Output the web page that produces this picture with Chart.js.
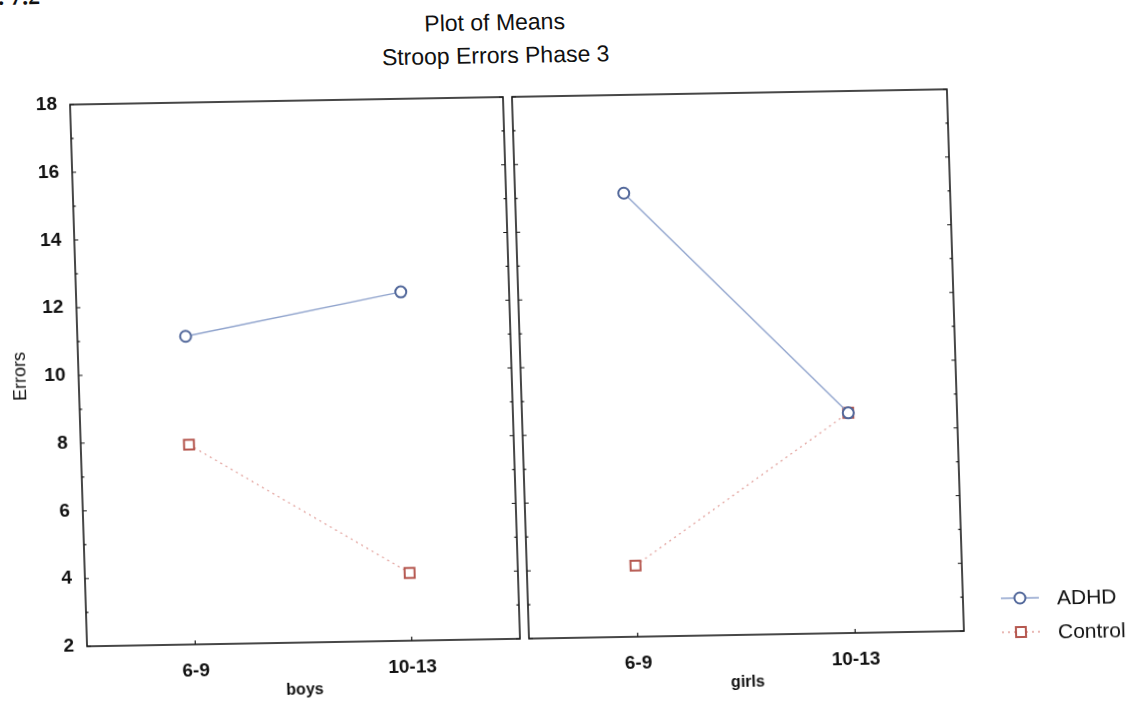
<!DOCTYPE html>
<html>
<head>
<meta charset="utf-8">
<script src="https://cdn.jsdelivr.net/npm/chart.js@4.4.0/dist/chart.umd.min.js"></script>
<style>
html, body { margin: 0; padding: 0; background: #fff; overflow: hidden; }
#page {
  position: relative; width: 1131px; height: 704px;
  transform: rotate(-1deg) skewX(0.8deg); transform-origin: 565px 352px;
  font-family: "Liberation Sans", Arial, sans-serif; color: #111;
}
.title { position: absolute; left: 0; width: 1010px; text-align: center; font-size: 23px; line-height: 23px; }
#fig { position: absolute; left: -24px; top: -26px; font: bold 24px "Liberation Serif", serif; }
#boysWrap { position: absolute; left: 0; top: 0; }
#girlsWrap { position: absolute; left: 511px; top: 0; }
</style>
</head>
<body>
<div id="page">
  <div id="fig">Fig. 7.2</div>
  <div class="title" style="top:10px">Plot of Means</div>
  <div class="title" style="top:43px">Stroop Errors Phase 3</div>
  <div id="boysWrap"><canvas id="boys" width="520" height="704"></canvas></div>
  <div id="girlsWrap"><canvas id="girls" width="620" height="704"></canvas></div>
</div>
<script>
const categories = ['6-9', '10-13'];
const seriesNames = ['ADHD', 'Control'];
const boysADHD = [11.1, 12.3];
const boysControl = [7.9, 4.0];
const girlsADHD = [15.1, 8.5];
const girlsControl = [4.1, 8.5];
const yTicks = [2, 4, 6, 8, 10, 12, 14, 16, 18];

const ink = '#111';
const family = '"Liberation Sans", Arial, sans-serif';

// box round the plot area plus small inner ticks, like the old stats package
const frame = {
  id: 'frame',
  beforeDatasetsDraw(chart) {
    const { ctx, chartArea: a, scales } = chart;
    ctx.save();
    ctx.strokeStyle = '#1a1a1a';
    ctx.lineWidth = 1.6;
    ctx.strokeRect(a.left, a.top, a.right - a.left, a.bottom - a.top);
    ctx.lineWidth = 1.2;
    const y = scales.y;
    for (let v = y.min; v <= y.max; v++) {
      const py = y.getPixelForValue(v);
      const len = v % 2 === 0 ? 4 : 2.5;
      ctx.beginPath();
      ctx.moveTo(a.left, py); ctx.lineTo(a.left + len, py);
      ctx.moveTo(a.right, py); ctx.lineTo(a.right - len, py);
      ctx.stroke();
    }
    const x = scales.x;
    categories.forEach((c, i) => {
      const px = x.getPixelForValue(i);
      ctx.beginPath();
      ctx.moveTo(px, a.bottom); ctx.lineTo(px, a.bottom - 4);
      ctx.stroke();
    });
    ctx.restore();
  }
};

// legend: line with the marker in the middle, then the name
const sideLegend = {
  id: 'sideLegend',
  afterDraw(chart) {
    const { ctx, chartArea: a } = chart;
    ctx.save();
    chart.data.datasets.forEach((ds, i) => {
      const cy = a.bottom - 32 + i * 34;
      const cx = a.right + 57;
      ctx.strokeStyle = ds.borderColor;
      ctx.lineWidth = ds.borderWidth;
      ctx.setLineDash(ds.borderDash || []);
      ctx.beginPath();
      ctx.moveTo(cx - 19, cy); ctx.lineTo(cx + 19, cy);
      ctx.stroke();
      ctx.setLineDash([]);
      ctx.fillStyle = '#fff';
      ctx.strokeStyle = ds.pointBorderColor;
      ctx.lineWidth = ds.pointBorderWidth;
      Chart.helpers.drawPoint(ctx, { pointStyle: ds.pointStyle, radius: ds.pointRadius, rotation: 0, borderWidth: ds.pointBorderWidth }, cx, cy);
      ctx.fillStyle = ink;
      ctx.font = '21px ' + family;
      ctx.textBaseline = 'middle';
      ctx.fillText(ds.label, a.right + 94, cy + 1);
    });
    ctx.restore();
  }
};

function datasets(adhd, control) {
  return [
    {
      label: seriesNames[0], data: adhd,
      borderColor: '#8ea2cc', borderWidth: 1.3,
      pointStyle: 'circle', pointRadius: 5.5, pointBorderWidth: 2,
      pointBorderColor: '#51679a', pointBackgroundColor: '#fff'
    },
    {
      label: seriesNames[1], data: control,
      borderColor: '#e2a19c', borderWidth: 1.3, borderDash: [2, 4],
      pointStyle: 'rect', pointRadius: 7, pointBorderWidth: 2,
      pointBorderColor: '#b5574f', pointBackgroundColor: '#fff'
    }
  ];
}

function makePanel(id, adhd, control, groupName, withAxis) {
  const plugins = [frame];
  if (!withAxis) plugins.push(sideLegend);
  const yScale = {
    display: withAxis,
    min: yTicks[0], max: yTicks[yTicks.length - 1],
    grid: { display: false, drawTicks: false }, border: { display: false },
    ticks: {
      stepSize: yTicks[1] - yTicks[0], color: ink, padding: 13,
      font: { family: family, size: 19, weight: 'bold' }
    },
    title: {
      display: true, text: 'Errors', color: ink,
      padding: { top: 9, bottom: 0 },
      font: { family: family, size: 18 }
    }
  };
  if (withAxis) yScale.afterFit = s => { s.width = 78; };
  return new Chart(document.getElementById(id), {
    type: 'line',
    data: { labels: categories, datasets: datasets(adhd, control) },
    options: {
      responsive: false,
      animation: false,
      layout: { padding: withAxis ? { left: 0, right: 0, top: 96, bottom: 0 } : { left: 1, right: 176, top: 96, bottom: 0 } },
      plugins: { legend: { display: false }, tooltip: { enabled: false } },
      scales: {
        x: {
          type: 'category', offset: true,
          grid: { display: false }, border: { display: false },
          ticks: { color: ink, padding: 7, font: { family: family, size: 19, weight: 'bold' } },
          title: {
            display: true, text: groupName, color: ink,
            padding: { top: 0, bottom: 9 },
            font: { family: family, size: 16, weight: 'bold' }
          },
          afterFit(s) { s.height = 66; }
        },
        y: yScale
      }
    },
    plugins: plugins
  });
}

makePanel('boys', boysADHD, boysControl, 'boys', true);
makePanel('girls', girlsADHD, girlsControl, 'girls', false);
</script>
</body>
</html>
